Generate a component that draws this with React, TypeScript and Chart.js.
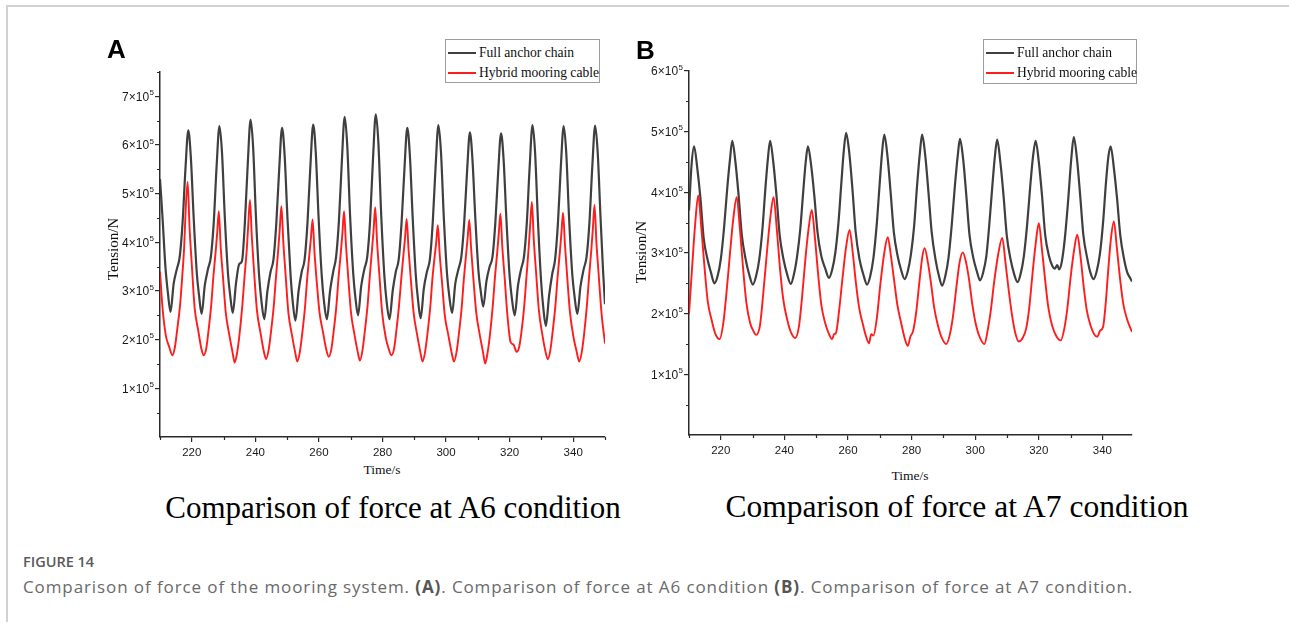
import React, { useEffect, useRef } from "react";
import { Chart, registerables } from "chart.js";

Chart.register(...registerables);

// ---------- data (time in s, tension in units of 10^5 N) ----------
const xTickValues = [220, 240, 260, 280, 300, 320, 340];
const xMinorValues = [210, 230, 250, 270, 290, 310, 330, 350];
const yTicksA = [1, 2, 3, 4, 5, 6, 7];
const yMinorA = [0.5, 1.5, 2.5, 3.5, 4.5, 5.5, 6.5, 7.5];
const yTicksB = [1, 2, 3, 4, 5, 6];
const yMinorB = [0.5, 1.5, 2.5, 3.5, 4.5, 5.5];

const seriesNames = ["Full anchor chain", "Hybrid mooring cable"];

// Panel A (A6 condition) — full anchor chain
const fullChainA: [number, number][] = [
  [210.0, 5.3], [210.8, 4.5], [211.7, 3.5], [212.5, 2.95],
  [213.3, 2.57], [214.3, 3.15], [215.3, 3.45], [216.2, 3.7], [217.1, 4.4], [218.0, 5.5], [218.9, 6.3], [219.7, 5.75], [220.6, 4.5], [221.6, 3.35], [222.3, 2.9],
  [223.1, 2.53], [224.1, 3.12], [225.1, 3.45], [226.0, 3.7], [226.9, 4.4], [227.8, 5.55], [228.7, 6.39], [229.5, 5.85], [230.4, 4.5], [231.4, 3.35], [232.1, 2.9],
  [232.9, 2.55], [233.9, 3.15], [234.9, 3.55], [235.8, 3.62], [236.7, 4.4], [237.6, 5.6], [238.5, 6.52], [239.3, 5.95], [240.2, 4.5], [241.2, 3.3], [241.9, 2.8],
  [242.8, 2.42], [243.8, 3.0], [244.8, 3.4], [245.7, 3.65], [246.6, 4.4], [247.5, 5.5], [248.4, 6.35], [249.2, 5.8], [250.1, 4.5], [251.1, 3.3], [251.8, 2.75],
  [252.6, 2.39], [253.6, 3.0], [254.6, 3.4], [255.5, 3.65], [256.4, 4.4], [257.3, 5.55], [258.2, 6.42], [259.0, 5.85], [259.9, 4.5], [260.9, 3.3], [261.6, 2.78],
  [262.5, 2.42], [263.5, 3.0], [264.5, 3.4], [265.4, 3.7], [266.3, 4.45], [267.2, 5.65], [268.1, 6.58], [268.9, 6.0], [269.8, 4.55], [270.8, 3.35], [271.5, 2.85],
  [272.3, 2.5], [273.3, 3.1], [274.3, 3.45], [275.2, 3.7], [276.1, 4.45], [277.0, 5.7], [277.9, 6.63], [278.7, 6.05], [279.6, 4.55], [280.6, 3.3], [281.3, 2.78],
  [282.2, 2.42], [283.2, 3.0], [284.2, 3.4], [285.1, 3.65], [286.0, 4.4], [286.9, 5.5], [287.8, 6.35], [288.6, 5.8], [289.5, 4.5], [290.5, 3.3], [291.2, 2.8],
  [292.0, 2.44], [293.0, 3.05], [294.0, 3.4], [294.9, 3.65], [295.8, 4.4], [296.7, 5.55], [297.6, 6.41], [298.4, 5.85], [299.3, 4.5], [300.3, 3.35], [301.0, 2.9],
  [301.9, 2.55], [302.9, 3.15], [303.9, 3.45], [304.8, 3.7], [305.7, 4.4], [306.6, 5.45], [307.5, 6.26], [308.3, 5.7], [309.2, 4.5], [310.2, 3.4], [310.9, 3.0],
  [311.7, 2.68], [312.7, 3.2], [313.7, 3.5], [314.6, 3.7], [315.5, 4.4], [316.4, 5.45], [317.3, 6.24], [318.1, 5.7], [319.0, 4.45], [320.0, 3.3], [320.7, 2.85],
  [321.6, 2.5], [322.6, 3.1], [323.6, 3.45], [324.5, 3.7], [325.4, 4.4], [326.3, 5.55], [327.2, 6.41], [328.0, 5.85], [328.9, 4.45], [329.9, 3.2], [330.6, 2.65],
  [331.4, 2.28], [332.4, 2.9], [333.4, 3.35], [334.3, 3.65], [335.2, 4.4], [336.1, 5.55], [337.0, 6.39], [337.8, 5.85], [338.7, 4.5], [339.7, 3.35], [340.4, 2.9],
  [341.3, 2.53], [342.3, 3.1], [343.3, 3.45], [344.2, 3.7], [345.1, 4.4], [346.0, 5.55], [346.9, 6.4], [347.7, 5.85], [348.6, 4.5], [349.4, 3.4], [350.0, 2.73],
];

// Panel A — hybrid mooring cable
const hybridCableA: [number, number][] = [
  [210.0, 3.4], [210.8, 2.65], [211.8, 2.1], [212.9, 1.85],
  [213.9, 1.68], [214.7, 1.85], [215.4, 2.2], [216.3, 2.7], [217.0, 3.3], [217.6, 3.9], [218.1, 4.7], [218.7, 5.24], [219.3, 4.3], [220.0, 3.55], [220.9, 2.65], [222.0, 2.2], [223.0, 1.82],
  [223.7, 1.68], [224.5, 1.8], [225.2, 2.15], [226.1, 2.7], [226.8, 3.3], [227.5, 3.8], [228.0, 4.2], [228.5, 4.64], [229.1, 3.9], [229.8, 3.3], [230.7, 2.55], [231.8, 2.1], [232.8, 1.75],
  [233.5, 1.53], [234.3, 1.75], [235.0, 2.1], [235.9, 2.7], [236.6, 3.3], [237.3, 3.85], [237.8, 4.4], [238.3, 4.87], [238.9, 4.1], [239.6, 3.4], [240.5, 2.6], [241.6, 2.15], [242.6, 1.78],
  [243.4, 1.6], [244.2, 1.8], [244.9, 2.15], [245.8, 2.7], [246.5, 3.3], [247.2, 3.85], [247.7, 4.3], [248.2, 4.74], [248.8, 4.0], [249.5, 3.35], [250.4, 2.55], [251.5, 2.1], [252.5, 1.75],
  [253.2, 1.55], [254.0, 1.75], [254.7, 2.1], [255.6, 2.65], [256.3, 3.25], [257.0, 3.75], [257.5, 4.1], [258.0, 4.47], [258.6, 3.8], [259.3, 3.2], [260.2, 2.55], [261.3, 2.15], [262.3, 1.8],
  [263.1, 1.65], [263.9, 1.8], [264.6, 2.15], [265.5, 2.7], [266.2, 3.3], [266.9, 3.8], [267.4, 4.2], [267.9, 4.64], [268.5, 3.95], [269.2, 3.3], [270.1, 2.55], [271.2, 2.1], [272.2, 1.75],
  [272.9, 1.57], [273.7, 1.78], [274.4, 2.15], [275.3, 2.7], [276.0, 3.3], [276.7, 3.85], [277.2, 4.25], [277.7, 4.72], [278.3, 4.0], [279.0, 3.35], [279.9, 2.55], [281.0, 2.05], [282.0, 1.8],
  [282.8, 1.68], [283.6, 1.8], [284.3, 2.15], [285.2, 2.7], [285.9, 3.25], [286.6, 3.75], [287.1, 4.1], [287.6, 4.48], [288.2, 3.85], [288.9, 3.25], [289.8, 2.55], [290.9, 2.1], [291.9, 1.75],
  [292.6, 1.55], [293.4, 1.75], [294.1, 2.1], [295.0, 2.65], [295.7, 3.25], [296.4, 3.7], [296.9, 4.0], [297.4, 4.35], [298.0, 3.75], [298.7, 3.2], [299.6, 2.5], [300.7, 2.1], [301.7, 1.75],
  [302.5, 1.55], [303.3, 1.75], [304.0, 2.1], [304.9, 2.65], [305.6, 3.25], [306.3, 3.75], [306.8, 4.1], [307.3, 4.46], [307.9, 3.85], [308.6, 3.25], [309.5, 2.55], [310.6, 2.1], [311.6, 1.75],
  [312.3, 1.51], [313.1, 1.75], [313.8, 2.1], [314.7, 2.7], [315.4, 3.3], [316.1, 3.8], [316.6, 4.2], [317.1, 4.59], [317.7, 3.9], [318.4, 3.3], [319.3, 2.5], [320.3, 1.95], [321.2, 1.9],
  [322.2, 1.75], [323.0, 1.85], [323.7, 2.15], [324.6, 2.7], [325.3, 3.3], [326.0, 3.9], [326.5, 4.4], [327.0, 4.83], [327.6, 4.05], [328.3, 3.4], [329.2, 2.6], [330.3, 2.1], [331.3, 1.75],
  [332.0, 1.6], [332.8, 1.78], [333.5, 2.15], [334.4, 2.7], [335.1, 3.3], [335.8, 3.8], [336.3, 4.2], [336.8, 4.61], [337.4, 3.95], [338.1, 3.3], [339.0, 2.55], [340.1, 2.05], [341.1, 1.75],
  [341.9, 1.55], [342.7, 1.75], [343.4, 2.1], [344.3, 2.7], [345.0, 3.3], [345.7, 3.85], [346.2, 4.3], [346.7, 4.77], [347.3, 4.0], [348.0, 3.35], [348.9, 2.55], [350.0, 1.92],
];

// Panel B (A7 condition) — full anchor chain
const fullChainB: [number, number][] = [
  [210.0, 3.7], [210.8, 4.45], [211.6, 4.76], [212.6, 4.4], [213.6, 3.9], [214.6, 3.25], [215.8, 2.9], [216.9, 2.68],
  [218.0, 2.5], [219.0, 2.62], [220.0, 2.9], [221.0, 3.4], [222.0, 4.05], [222.9, 4.55], [223.6, 4.85], [224.6, 4.5], [225.6, 3.95], [226.6, 3.3], [227.8, 2.9], [228.9, 2.65],
  [230.1, 2.48], [231.1, 2.62], [232.1, 2.9], [233.1, 3.4], [234.0, 4.05], [234.8, 4.55], [235.5, 4.85], [236.5, 4.5], [237.5, 3.95], [238.5, 3.3], [239.7, 2.9], [240.8, 2.66],
  [242.0, 2.49], [243.0, 2.65], [244.0, 2.95], [245.0, 3.4], [245.9, 4.0], [246.7, 4.5], [247.4, 4.76], [248.4, 4.45], [249.4, 3.95], [250.4, 3.35], [251.6, 2.95], [252.8, 2.75],
  [254.0, 2.59], [255.0, 2.72], [256.0, 3.0], [257.0, 3.5], [257.9, 4.15], [258.7, 4.7], [259.4, 4.98], [260.4, 4.65], [261.4, 4.05], [262.4, 3.35], [263.6, 2.9], [264.8, 2.65],
  [266.0, 2.48], [267.0, 2.62], [268.0, 2.92], [269.0, 3.45], [269.9, 4.1], [270.7, 4.65], [271.4, 4.95], [272.4, 4.6], [273.4, 4.0], [274.4, 3.35], [275.6, 2.95], [276.7, 2.72],
  [277.8, 2.57], [278.8, 2.7], [279.8, 2.98], [280.8, 3.45], [281.7, 4.1], [282.6, 4.65], [283.3, 4.95], [284.3, 4.6], [285.3, 4.0], [286.3, 3.35], [287.5, 2.9], [288.6, 2.62],
  [289.6, 2.46], [290.6, 2.62], [291.6, 2.92], [292.6, 3.45], [293.6, 4.1], [294.5, 4.6], [295.2, 4.88], [296.2, 4.55], [297.2, 3.95], [298.2, 3.3], [299.4, 2.92], [300.5, 2.7],
  [301.5, 2.55], [302.5, 2.68], [303.5, 2.95], [304.4, 3.45], [305.3, 4.05], [306.2, 4.6], [306.9, 4.87], [307.9, 4.5], [308.9, 3.95], [309.9, 3.3], [311.1, 2.9], [312.2, 2.66],
  [313.3, 2.52], [314.3, 2.66], [315.3, 2.95], [316.3, 3.45], [317.3, 4.1], [318.2, 4.6], [319.0, 4.85], [320.0, 4.5], [321.0, 3.95], [322.0, 3.3], [323.2, 2.95], [324.3, 2.78],
  [325.0, 2.74], [325.8, 2.8], [326.4, 2.73], [327.2, 2.85], [328.2, 3.25], [329.2, 3.85], [330.2, 4.55], [331.0, 4.91], [332.0, 4.55], [333.0, 3.95], [334.0, 3.3], [335.2, 2.92], [336.2, 2.68],
  [337.2, 2.57], [338.2, 2.7], [339.2, 2.98], [340.2, 3.5], [341.1, 4.15], [341.9, 4.6], [342.6, 4.76], [343.6, 4.4], [344.6, 3.9], [345.6, 3.3], [346.8, 2.9], [347.8, 2.68],
  [348.8, 2.58], [349.3, 2.53],
];

// Panel B — hybrid mooring cable
const hybridCableB: [number, number][] = [
  [210.0, 2.0], [210.9, 2.7], [211.9, 3.45], [212.9, 3.95], [213.9, 3.4], [214.9, 2.75], [215.9, 2.2], [217.1, 1.9], [218.2, 1.68],
  [219.6, 1.58], [220.8, 1.85], [221.8, 2.35], [222.9, 3.0], [223.9, 3.55], [225.0, 3.92], [226.0, 3.4], [227.0, 2.75], [228.0, 2.2], [229.2, 1.85], [230.2, 1.72],
  [231.1, 1.65], [232.3, 1.8], [233.3, 2.3], [234.4, 2.95], [235.5, 3.55], [236.6, 3.92], [237.6, 3.4], [238.6, 2.75], [239.6, 2.25], [240.8, 1.92], [242.0, 1.7],
  [243.4, 1.6], [244.6, 1.8], [245.6, 2.3], [246.6, 2.9], [247.6, 3.4], [248.6, 3.71], [249.6, 3.25], [250.6, 2.65], [251.6, 2.15], [252.8, 1.85], [253.9, 1.68],
  [255.0, 1.58], [255.6, 1.66], [256.2, 1.68], [257.2, 2.05], [258.3, 2.6], [259.4, 3.1], [260.5, 3.38], [261.5, 3.0], [262.5, 2.5], [263.5, 2.1], [264.7, 1.82], [265.7, 1.62],
  [266.6, 1.51], [267.3, 1.66], [268.0, 1.64], [269.0, 1.9], [270.2, 2.5], [271.4, 3.0], [272.5, 3.26], [273.5, 2.95], [274.5, 2.55], [275.5, 2.15], [276.7, 1.85], [277.8, 1.6],
  [278.8, 1.47], [279.6, 1.62], [280.5, 1.72], [281.5, 2.05], [282.5, 2.55], [283.4, 2.95], [284.1, 3.08], [285.1, 2.85], [286.1, 2.5], [287.1, 2.1], [288.3, 1.8], [289.5, 1.6],
  [290.9, 1.5], [292.0, 1.65], [293.0, 1.95], [294.0, 2.4], [295.1, 2.85], [296.1, 3.01], [297.1, 2.85], [298.1, 2.55], [299.1, 2.15], [300.3, 1.8], [301.5, 1.6],
  [302.9, 1.5], [303.9, 1.72], [304.9, 2.05], [305.9, 2.5], [307.3, 3.0], [308.5, 3.25], [309.5, 2.85], [310.5, 2.4], [311.5, 2.0], [312.6, 1.68],
  [313.7, 1.54], [314.9, 1.6], [316.0, 1.75], [317.0, 2.1], [318.0, 2.65], [319.0, 3.15], [320.0, 3.49], [321.0, 3.05], [322.0, 2.55], [323.0, 2.1], [324.2, 1.8], [325.6, 1.62],
  [326.9, 1.56], [328.0, 1.75], [329.0, 2.1], [330.0, 2.6], [331.1, 3.05], [332.1, 3.3], [333.1, 2.95], [334.1, 2.45], [335.1, 2.05], [336.3, 1.8], [337.4, 1.66],
  [338.4, 1.62], [339.3, 1.72], [340.2, 1.78], [341.0, 2.15], [341.8, 2.7], [342.7, 3.25], [343.6, 3.52], [344.6, 3.05], [345.6, 2.55], [346.6, 2.15], [347.8, 1.9], [349.3, 1.7],
];

// ---------- styles ----------
const SERIF = '"Liberation Serif", "Times New Roman", serif';
const SANS = '"Liberation Sans", Arial, Helvetica, sans-serif';
const CAPTION_FONT = '"Open Sans", "Noto Sans", sans-serif';
const BLACK_LINE = "#3f3f3f";
const RED_LINE = "#ff1c1c";
const AXIS = "#2a2a2a";

type PanelProps = {
  left: number;
  top: number;
  width: number;
  height: number;
  padTop: number;
  padRight: number;
  yWidth: number;
  xHeight: number;
  xMin: number;
  xMax: number;
  yMax: number;
  yTicks: number[];
  yMinor: number[];
  chain: [number, number][];
  cable: [number, number][];
};

function Panel(p: PanelProps) {
  const ref = useRef<HTMLCanvasElement | null>(null);
  useEffect(() => {
    if (!ref.current) return;
    const decor = {
      id: "decor",
      afterDraw(chart: any) {
        const ctx = chart.ctx;
        const xs = chart.scales.x;
        const ys = chart.scales.y;
        const { left, bottom } = chart.chartArea;
        ctx.save();
        ctx.strokeStyle = AXIS;
        ctx.lineWidth = 1.2;
        ctx.beginPath();
        p.yMinor.forEach((v) => {
          const y = Math.round(ys.getPixelForValue(v)) + 0.5;
          ctx.moveTo(left, y);
          ctx.lineTo(left - 3, y);
        });
        xMinorValues.forEach((v) => {
          if (v < p.xMin - 0.01 || v > p.xMax + 0.01) return;
          const x = Math.round(xs.getPixelForValue(v)) + 0.5;
          ctx.moveTo(x, bottom);
          ctx.lineTo(x, bottom + 3);
        });
        ctx.stroke();
        const mainFont = `12px ${SANS}`;
        const supFont = `8px ${SANS}`;
        ctx.fillStyle = "#1a1a1a";
        ctx.textBaseline = "middle";
        ctx.textAlign = "left";
        p.yTicks.forEach((v) => {
          const y = ys.getPixelForValue(v);
          const main = `${v}×10`;
          ctx.font = supFont;
          const wSup = ctx.measureText("5").width;
          ctx.font = mainFont;
          const wMain = ctx.measureText(main).width;
          const right = left - 6;
          ctx.fillText(main, right - wSup - wMain - 0.5, y + 1);
          ctx.font = supFont;
          ctx.fillText("5", right - wSup, y - 3.5);
        });
        ctx.restore();
      },
    };
    const chart = new Chart(ref.current, {
      type: "line",
      data: {
        datasets: [
          {
            label: seriesNames[1],
            data: p.cable.map(([x, y]) => ({ x, y })),
            borderColor: RED_LINE,
            borderWidth: 1.9,
            pointRadius: 0,
            cubicInterpolationMode: "monotone",
            fill: false,
          },
          {
            label: seriesNames[0],
            data: p.chain.map(([x, y]) => ({ x, y })),
            borderColor: BLACK_LINE,
            borderWidth: 2.2,
            pointRadius: 0,
            cubicInterpolationMode: "monotone",
            fill: false,
          },
        ],
      },
      options: {
        animation: false,
        responsive: false,
        maintainAspectRatio: false,
        layout: { padding: { top: p.padTop, right: p.padRight, left: 0, bottom: 0 } },
        plugins: { legend: { display: false }, tooltip: { enabled: false } },
        events: [],
        scales: {
          x: {
            type: "linear",
            min: p.xMin,
            max: p.xMax,
            afterBuildTicks: (s: any) => {
              s.ticks = xTickValues.map((value) => ({ value }));
            },
            afterFit: (s: any) => {
              s.height = p.xHeight;
            },
            ticks: {
              autoSkip: false,
              maxRotation: 0,
              padding: 4,
              color: "#1a1a1a",
              font: { family: SANS, size: 11.5 },
              callback: (v: any) => String(v),
            },
            grid: {
              drawOnChartArea: false,
              drawTicks: true,
              tickLength: 5,
              color: AXIS,
              lineWidth: 1.2,
            },
            border: { display: true, color: AXIS, width: 1.5 },
          },
          y: {
            type: "linear",
            min: 0,
            max: p.yMax,
            afterBuildTicks: (s: any) => {
              s.ticks = p.yTicks.map((value) => ({ value }));
            },
            afterFit: (s: any) => {
              s.width = p.yWidth;
            },
            ticks: { display: false },
            grid: {
              drawOnChartArea: false,
              drawTicks: true,
              tickLength: 5,
              color: AXIS,
              lineWidth: 1.2,
            },
            border: { display: true, color: AXIS, width: 1.5 },
          },
        },
      },
      plugins: [decor],
    } as any);
    return () => chart.destroy();
  }, []);
  return (
    <canvas
      ref={ref}
      width={p.width}
      height={p.height}
      style={{ position: "absolute", left: p.left, top: p.top, width: p.width, height: p.height }}
    />
  );
}

function Legend({ left, top, width, height }: { left: number; top: number; width: number; height: number }) {
  const rows = [
    { name: seriesNames[0], color: BLACK_LINE, lineY: 12.7, textTop: 6.1 },
    { name: seriesNames[1], color: RED_LINE, lineY: 32.7, textTop: 26.3 },
  ];
  return (
    <div
      style={{
        position: "absolute",
        left,
        top,
        width,
        height,
        boxSizing: "border-box",
        border: "1px solid #9c9c9c",
        background: "#fff",
      }}
    >
      {rows.map((r) => (
        <React.Fragment key={r.name}>
          <div
            style={{
              position: "absolute",
              left: 2,
              top: r.lineY - 1.1,
              width: 28,
              height: 2.2,
              background: r.color,
            }}
          />
          <div
            style={{
              position: "absolute",
              left: 33,
              top: r.textTop,
              fontFamily: SERIF,
              fontSize: 13.6,
              lineHeight: 1,
              color: "#111",
              whiteSpace: "nowrap",
            }}
          >
            {r.name}
          </div>
        </React.Fragment>
      ))}
    </div>
  );
}

function Abs({ style, children }: { style: React.CSSProperties; children: React.ReactNode }) {
  return <div style={{ position: "absolute", whiteSpace: "nowrap", lineHeight: 1, ...style }}>{children}</div>;
}

export default function App() {
  return (
    <div
      style={{
        position: "absolute",
        left: 0,
        top: 0,
        width: 1289,
        height: 622,
        overflow: "hidden",
        background: "#fff",
      }}
    >
      {/* frame */}
      <div style={{ position: "absolute", left: 6, top: 5, width: 1283, height: 1.5, background: "#d2d2d2" }} />
      <div style={{ position: "absolute", left: 6, top: 5, width: 1.5, height: 617, background: "#d2d2d2" }} />

      <Panel
        left={100}
        top={60}
        width={520}
        height={400}
        padTop={12}
        padRight={15}
        yWidth={60}
        xHeight={23}
        xMin={210}
        xMax={350}
        yMax={7.5}
        yTicks={yTicksA}
        yMinor={yMinorA}
        chain={fullChainA}
        cable={hybridCableA}
      />
      <Panel
        left={630}
        top={60}
        width={520}
        height={400}
        padTop={11}
        padRight={18}
        yWidth={59}
        xHeight={25}
        xMin={210}
        xMax={349.3}
        yMax={6}
        yTicks={yTicksB}
        yMinor={yMinorB}
        chain={fullChainB}
        cable={hybridCableB}
      />

      <Legend left={445} top={39} width={155} height={44} />
      <Legend left={983} top={39} width={154} height={45} />

      {/* panel letters */}
      <Abs style={{ left: 107, top: 36, fontFamily: SANS, fontWeight: 700, fontSize: 26, color: "#000" }}>A</Abs>
      <Abs style={{ left: 636, top: 37, fontFamily: SANS, fontWeight: 700, fontSize: 26, color: "#000" }}>B</Abs>

      {/* axis titles */}
      <Abs
        style={{
          left: 113,
          top: 249,
          fontFamily: SERIF,
          fontSize: 15,
          color: "#111",
          transform: "translate(-50%, -50%) rotate(-90deg)",
        }}
      >
        Tension/N
      </Abs>
      <Abs
        style={{
          left: 641,
          top: 252,
          fontFamily: SERIF,
          fontSize: 15,
          color: "#111",
          transform: "translate(-50%, -50%) rotate(-90deg)",
        }}
      >
        Tension/N
      </Abs>
      <Abs style={{ left: 382, top: 470, fontFamily: SERIF, fontSize: 13.5, color: "#111", transform: "translate(-50%, -50%)" }}>
        Time/s
      </Abs>
      <Abs style={{ left: 910, top: 476, fontFamily: SERIF, fontSize: 13.5, color: "#111", transform: "translate(-50%, -50%)" }}>
        Time/s
      </Abs>

      {/* condition titles */}
      <Abs style={{ left: 393, top: 491.5, fontFamily: SERIF, fontSize: 31, color: "#000", transform: "translateX(-50%)" }}>
        Comparison of force at A6 condition
      </Abs>
      <Abs style={{ left: 957, top: 490.5, fontFamily: SERIF, fontSize: 31.5, color: "#000", transform: "translateX(-50%)" }}>
        Comparison of force at A7 condition
      </Abs>

      {/* caption */}
      <Abs style={{ left: 23, top: 555, fontFamily: CAPTION_FONT, fontSize: 14.5, fontWeight: 600, color: "#5a5a5a" }}>
        FIGURE 14
      </Abs>
      <Abs style={{ left: 23, top: 578, fontFamily: CAPTION_FONT, fontSize: 17, letterSpacing: 0.9, color: "#6a6a6a" }}>
        Comparison of force of the mooring system. <b style={{ color: "#555" }}>(A)</b>. Comparison of force at A6 condition{" "}
        <b style={{ color: "#555" }}>(B)</b>. Comparison of force at A7 condition.
      </Abs>
    </div>
  );
}
